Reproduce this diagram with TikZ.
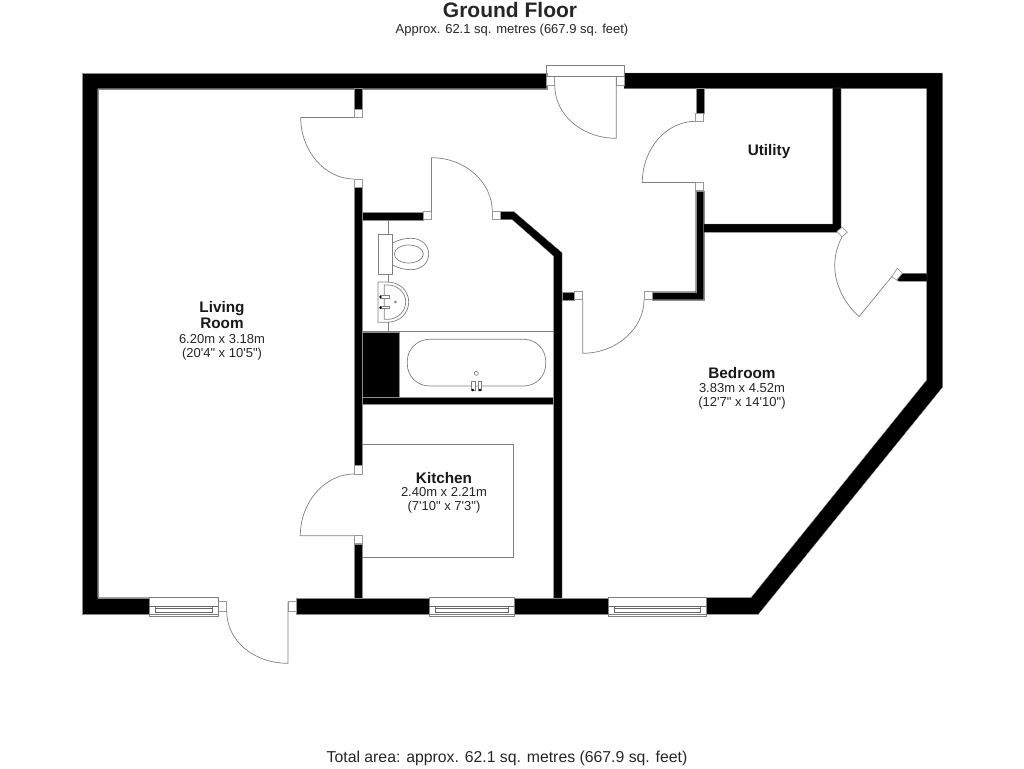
\documentclass[tikz,border=0pt]{standalone}
\usepackage{fontspec}
\setmainfont{Liberation Sans}[Ligatures=TeXOff]
\usepackage{tikz}

\begin{document}
\begin{tikzpicture}[x=1pt, y=-1pt]
\tikzset{wallpart/.style={fill=black, draw=black!45, line width=0.3pt}}
\tikzset{fitting/.style={draw=black!50, line width=0.7pt}}
\tikzset{thinpart/.style={draw=black!60, line width=0.5pt}}
\tikzset{jamb/.style={draw=black!40, fill=white, line width=0.7pt}}
\tikzset{tapdot/.style={fill=black, draw=none}}
\tikzset{floortitle/.style={font=\fontsize{21}{23}\selectfont\bfseries, text=black!85}}
\tikzset{roomname/.style={font=\fontsize{15.3}{16}\selectfont\bfseries, text=black!90, align=center}}
\tikzset{roomsize/.style={font=\fontsize{13}{13.5}\selectfont, text=black!85, align=center}}
\useasboundingbox (0, 0) rectangle (1024, 768);
\fill[white] (0, 0) rectangle (1024, 768);

\node[floortitle] (title) at (510, 9.5) {Ground Floor};
\node[roomsize] (approx) at (512, 30.5) {Approx. 62.1 sq. metres (667.9 sq. feet)};
\node[roomsize, font=\fontsize{15.8}{17}\selectfont] (total) at (507, 758) {Total area: approx. 62.1 sq. metres (667.9 sq. feet)};

\draw[wallpart] (546.7, 73) -- (82, 73) -- (82, 614.3) -- (149.3, 614.3) -- (149.3, 597.7) -- (97.7, 597.7) -- (97.7, 88.7) -- (546.7, 88.7) -- cycle;
\draw[wallpart] (624, 73) -- (942.7, 73) -- (942.7, 387) -- (758.3, 614.3) -- (706.3, 614.3) -- (706.3, 597.7) -- (751, 597.7) -- (926.7, 380) -- (926.7, 88.7) -- (624, 88.7) -- cycle;
\draw[wallpart] (296, 597.7) rectangle (428.7, 614.3);
\draw[wallpart] (514, 597.7) rectangle (607.7, 614.3);
\draw[wallpart] (354, 88) rectangle (362, 109.3);
\draw[wallpart] (354, 187) rectangle (362, 465.7);
\draw[wallpart] (354, 543.7) rectangle (362, 598);
\draw[wallpart] (362, 211.7) rectangle (423.3, 219.7);
\draw[wallpart] (500.7, 211.7) -- (514, 211.7) -- (562, 252.7) -- (562, 598) -- (553.5, 598) -- (553.5, 256) -- (512.3, 219.7) -- (500.7, 219.7) -- cycle;
\draw[wallpart] (562, 291.7) rectangle (574.3, 299.7);
\draw[wallpart] (652, 291.7) -- (695.7, 291.7) -- (695.7, 190.7) -- (703.7, 190.7) -- (703.7, 299.7) -- (652, 299.7) -- cycle;
\draw[wallpart] (695.7, 88) rectangle (703.7, 113.3);
\draw[wallpart] (703.7, 224) -- (832.7, 224) -- (832.7, 88) -- (841, 88) -- (841, 229) -- (837, 232.3) -- (703.7, 232.3) -- cycle;
\draw[wallpart] (902.3, 273.3) -- (927, 273.3) -- (927, 281.3) -- (899, 281.3) -- (896.7, 280) -- cycle;
\draw[wallpart] (362, 331.7) rectangle (399.3, 396.7);
\draw[wallpart] (362, 396.7) rectangle (553.5, 404.3);

\draw[jamb] (354, 109.3) rectangle (362, 117.5);
\draw[jamb] (354, 179) rectangle (362, 187);
\draw[jamb] (354, 465.7) rectangle (362, 474);
\draw[jamb] (354, 535.7) rectangle (362, 543.7);
\draw[jamb] (423.3, 211.7) rectangle (431.5, 219.7);
\draw[jamb] (492.3, 211.7) rectangle (500.7, 219.7);
\draw[jamb] (574.3, 291.7) rectangle (582.7, 299.7);
\draw[jamb] (644, 291.7) rectangle (652, 299.7);
\draw[jamb] (695.7, 113.3) rectangle (703.7, 121.3);
\draw[jamb] (695.7, 182.5) rectangle (703.7, 190.7);
\draw[jamb] (546.7, 76.3) rectangle (554.7, 85);
\draw[jamb] (616.3, 76.3) rectangle (624, 85);
\draw[jamb] (218.3, 601.7) rectangle (226.7, 611);
\draw[jamb] (288, 601.7) rectangle (296, 611);
\draw[jamb] (837, 231.3) -- (842.3, 227.3) -- (847.3, 232.3) -- (842, 237) -- cycle;
\draw[jamb] (891.7, 276.7) -- (897.3, 268.3) -- (902.3, 273.3) -- (896.7, 280) -- cycle;

\draw[fitting] (354, 117.5) -- (300.7, 117.5) .. controls (300.7, 151) and (325, 179) .. (354, 179);
\draw[fitting] (354, 474) .. controls (325, 474) and (300.3, 502) .. (300.3, 535.7) -- (354, 535.7);
\draw[fitting] (431.5, 211.7) -- (431.5, 157.7) .. controls (465, 157.7) and (492.3, 182) .. (492.3, 211.7);
\draw[fitting] (582.7, 299.7) -- (582.7, 353.3) .. controls (616, 353.3) and (644, 329) .. (644, 299.7);
\draw[fitting] (695.7, 121.3) .. controls (666, 121.3) and (642.3, 149) .. (642.3, 182.5) -- (695.7, 182.5);
\draw[fitting] (616.3, 76.3) -- (616.3, 138.3) .. controls (582, 138.3) and (554.7, 115) .. (554.7, 85);
\draw[fitting] (288, 601.7) -- (288, 663.3) .. controls (254, 663.3) and (226.7, 641) .. (226.7, 611);
\draw[fitting] (841.7, 237.3) .. controls (829, 262) and (833, 292) .. (859, 316.7) -- (891.7, 276.7);

\draw[fitting] (546.7, 65.7) rectangle (624, 76.3);
\foreach \xa/\xb in {149.3/218.3, 429/514, 608/706.3} {
  \draw[fitting] (\xa, 597.7) rectangle (\xb, 616.5);
  \draw[thinpart] (\xa, 606) -- (\xb, 606);
  \draw[fitting] (\xa, 614.3) -- (\xb, 614.3);
  \draw[thinpart] ({\xa+6}, 606) rectangle ({\xb-6}, 612.7);
  \draw[thinpart] ({\xa+6}, 608.3) -- ({\xb-6}, 608.3);
}

\draw[fitting] (388.3, 219.7) -- (388.3, 234);
\draw[fitting] (378, 234) rectangle (392.7, 274);
\draw[fitting] (392.7, 243) .. controls (398, 240) and (404, 238.3) .. (411, 238.3) .. controls (421, 238.3) and (428.7, 245) .. (428.7, 254) .. controls (428.7, 263) and (421, 269.7) .. (411, 269.7) .. controls (404, 269.7) and (398, 268) .. (392.7, 265);
\draw[fitting] (408.8, 254) ellipse [x radius=14.5, y radius=9];
\draw[fitting] (388.3, 274) -- (388.3, 282);
\draw[fitting] (388.3, 322.3) -- (388.3, 331.7);
\draw[fitting] (378, 282) -- (387, 282) .. controls (400, 282) and (408.7, 291) .. (408.7, 302) .. controls (408.7, 313) and (400, 322.3) .. (387, 322.3) -- (378, 322.3) -- cycle;
\draw[fitting] (384.3, 319.3) -- (384.3, 285) -- (388, 285) .. controls (398, 285) and (405.7, 293) .. (405.7, 302) .. controls (405.7, 311) and (398, 319.3) .. (388, 319.3) -- cycle;
\draw[fitting, fill=white] (380, 295.7) rectangle (389, 298.3);
\draw[fitting, fill=white] (380, 306) rectangle (389, 308.8);
\fill[tapdot] (380.5, 297) circle (1.4);
\fill[tapdot] (380.5, 307.7) circle (1.4);
\draw[fitting] (395.3, 302) circle (1);

\draw[fitting, line width=1pt] (362, 331.7) -- (553.5, 331.7);
\draw[fitting, rounded corners=22] (407.3, 339.3) rectangle (545.7, 386);
\draw[fitting] (476.3, 373.3) circle (2);
\draw[fitting, fill=white] (471.3, 381.7) rectangle (475, 390);
\draw[fitting, fill=white] (478.3, 381.7) rectangle (481.7, 390);
\fill[tapdot] (472.8, 390) circle (1.4);
\fill[tapdot] (480, 390) circle (1.4);

\draw[fitting] (362, 444.7) -- (513.7, 444.7) -- (513.7, 557) -- (362, 557);

\node[roomname] (livingname) at (222, 315.5) {Living\\Room};
\node[roomsize] (livingsize) at (222, 347.5) {6.20m x 3.18m\\(20'4" x 10'5")};
\node[roomname] (kitchenname) at (444, 478) {Kitchen};
\node[roomsize] (kitchensize) at (444, 500.5) {2.40m x 2.21m\\(7'10" x 7'3")};
\node[roomname] (bedroomname) at (742, 373.5) {Bedroom};
\node[roomsize] (bedroomsize) at (742, 396.5) {3.83m x 4.52m\\(12'7" x 14'10")};
\node[roomname] (utilityname) at (769, 151.5) {Utility};
\end{tikzpicture}
\end{document}
